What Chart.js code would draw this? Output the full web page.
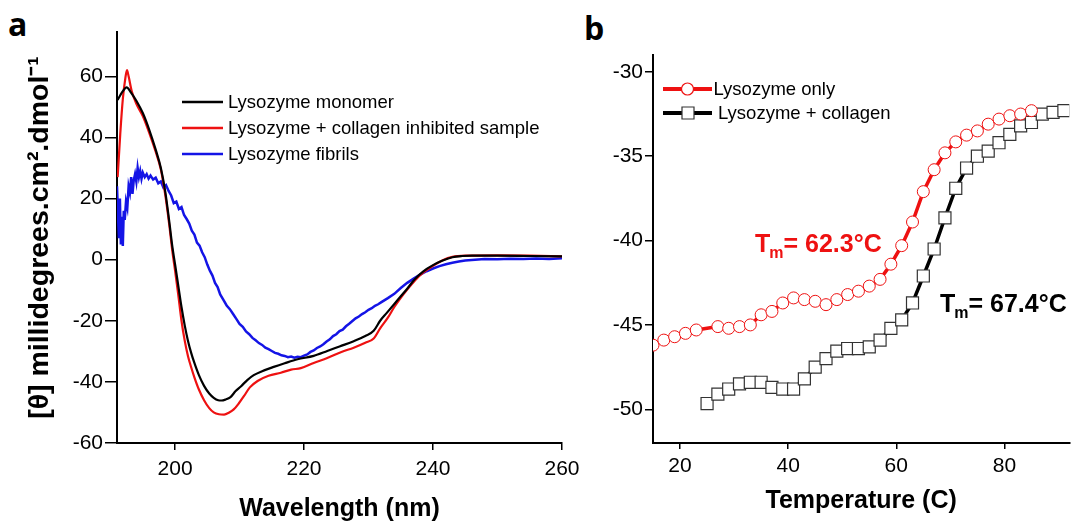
<!DOCTYPE html>
<html>
<head>
<meta charset="utf-8">
<script src="https://cdn.jsdelivr.net/npm/chart.js@4.4.1/dist/chart.umd.min.js"></script>
<style>
  html, body { margin: 0; padding: 0; background: #fff; }
  body { width: 1079px; height: 523px; position: relative; overflow: hidden; }
  canvas { position: absolute; top: 0; }
  #chartA { left: 0; }
  #chartB { left: 595px; }
  .panel { position: absolute; font-family: 'Open Sans', sans-serif; font-weight: 700; font-size: 32px; line-height: 32px; color: #000; }
</style>
</head>
<body>
<div class="panel" style="left:8px; top:8px;">a</div>
<div class="panel" style="left:584px; top:12px;">b</div>
<canvas id="chartA" width="595" height="523"></canvas>
<canvas id="chartB" width="484" height="523"></canvas>
<script>
// ---- panel a : CD spectra ----
const seriesNamesA = ['Lysozyme monomer', 'Lysozyme + collagen inhibited sample', 'Lysozyme fibrils'];
const wavelengthTicks = [200, 220, 240, 260];
const ellipticityTicks = [-60, -40, -20, 0, 20, 40, 60];

const monomerX = [191.1, 191.8, 192.5, 193.2, 194.0, 195.0, 196.0, 197.0, 197.8, 198.5, 199.1, 199.6, 200.0, 200.5, 201.0, 201.5, 202.0, 202.5, 203.0, 203.7, 204.5, 205.3, 206.0, 206.7, 207.2, 207.8, 208.6, 209.4, 210.2, 211.2, 212.2, 213.5, 215.3, 217.0, 219.0, 221.5, 223.6, 225.5, 227.7, 229.5, 230.8, 231.8, 232.8, 234.0, 235.0, 236.0, 237.2, 238.5, 240.0, 241.5, 243.0, 244.5, 246.0, 250.0, 255.0, 260.0];
const monomerY = [52.3, 54.8, 56.4, 54.6, 52.0, 48.0, 42.5, 36.0, 30.0, 22.0, 12.5, 4.0, -1.5, -8.5, -15.5, -21.5, -26.5, -30.5, -33.8, -37.8, -41.3, -43.8, -45.2, -46.0, -46.1, -45.8, -45.0, -43.0, -41.5, -39.4, -37.8, -36.5, -35.1, -33.9, -32.6, -31.5, -29.9, -28.4, -26.7, -25.0, -23.3, -20.0, -17.5, -14.5, -12.0, -9.5, -6.3, -3.8, -1.8, -0.3, 0.8, 1.2, 1.3, 1.3, 1.2, 1.1];

const inhibitedX = [191.1, 191.5, 191.9, 192.3, 192.55, 192.8, 193.3, 194.0, 195.0, 196.0, 197.0, 197.8, 198.5, 199.1, 199.6, 200.0, 200.5, 201.0, 201.5, 202.0, 202.5, 203.0, 203.7, 204.5, 205.3, 206.0, 206.8, 207.6, 208.4, 209.1, 209.9, 210.7, 211.6, 212.8, 214.5, 216.4, 218.0, 219.5, 221.5, 223.6, 225.8, 227.7, 229.5, 230.8, 231.8, 233.0, 234.0, 235.0, 236.0, 237.2, 238.5, 240.0, 241.5, 243.0, 245.0, 250.0, 255.0, 260.0];
const inhibitedY = [27.0, 41.0, 52.5, 59.5, 62.0, 60.0, 55.0, 51.0, 47.0, 41.5, 35.3, 29.5, 21.0, 11.5, 2.5, -3.5, -11.5, -20.0, -26.5, -31.5, -35.2, -38.5, -42.5, -46.0, -48.6, -50.0, -50.6, -50.7, -50.0, -49.0, -47.0, -44.6, -41.8, -39.7, -38.0, -37.0, -36.0, -35.5, -33.8, -32.2, -30.2, -28.8, -27.2, -25.8, -22.5, -19.0, -15.5, -12.5, -9.8, -6.8, -4.2, -2.0, -0.2, 0.9, 1.3, 1.4, 1.3, 1.1];

const fibrilX = [191.0, 191.2, 191.3, 191.45, 191.6, 191.75, 191.9, 192.05, 192.2, 192.4, 192.6, 192.8, 193.0, 193.2, 193.4, 193.6, 193.8, 194.0, 194.2, 194.4, 194.6, 194.8, 195.0, 195.3, 195.6, 195.9, 196.2, 196.6, 197.0, 197.4, 197.8, 198.2, 198.6, 199.0, 199.4, 199.8, 200.2, 200.6, 201.0, 201.4, 201.8, 202.2, 202.6, 203.0, 203.4, 203.8, 204.2, 204.6, 205.0, 205.4, 205.8, 206.2, 206.6, 207.0, 207.5, 208.0, 208.5, 209.0, 209.5, 210.0, 210.5, 211.0, 211.5, 212.0, 212.5, 213.0, 213.5, 214.0, 214.5, 215.0, 215.5, 216.0, 216.5, 217.0, 217.5, 218.0, 218.5, 219.0, 219.5, 220.0, 220.5, 221.0, 221.5, 222.0, 222.5, 223.0, 223.5, 224.0, 224.5, 225.0, 225.5, 226.0, 226.5, 227.0, 227.5, 228.0, 228.5, 229.0, 229.5, 230.0, 230.5, 231.0, 231.5, 232.0, 233.0, 234.0, 235.0, 236.0, 237.0, 238.0, 239.0, 240.0, 241.0, 242.0, 243.0, 244.0, 245.0, 246.5, 248.0, 250.0, 252.0, 254.0, 256.0, 258.0, 260.0];
const fibrilY = [24.0, 12.0, 7.0, 20.0, 5.0, 14.0, 4.5, 16.0, 13.0, 19.0, 17.0, 24.0, 22.0, 27.0, 21.5, 26.0, 28.0, 25.5, 30.0, 27.0, 29.0, 26.5, 28.5, 27.0, 28.0, 26.5, 27.5, 26.2, 26.8, 25.0, 25.6, 23.6, 24.4, 22.5, 21.0, 18.5, 19.0, 16.6, 17.2, 14.6, 13.3, 11.8, 9.5, 8.2, 5.6, 4.6, 2.4, 0.8, -1.6, -3.6, -5.2, -7.6, -9.0, -11.4, -13.2, -15.0, -16.2, -17.8, -19.4, -21.0, -22.0, -23.5, -24.4, -25.6, -26.4, -27.3, -27.9, -28.8, -29.3, -29.9, -30.5, -30.8, -31.3, -31.5, -31.9, -31.7, -32.1, -31.8, -31.9, -31.4, -31.0, -30.2, -29.7, -28.9, -28.4, -27.7, -26.8, -26.1, -25.0, -24.4, -23.4, -22.9, -21.8, -21.0, -20.1, -19.2, -18.6, -17.8, -17.2, -16.4, -15.9, -15.1, -14.6, -13.9, -12.6, -11.2, -9.3, -7.6, -6.2, -4.9, -3.8, -2.9, -2.1, -1.5, -1.0, -0.6, -0.3, 0.0, 0.2, 0.1, 0.3, 0.2, 0.4, 0.2, 0.5];

// ---- panel b : thermal unfolding ----
const seriesNamesB = ['Lysozyme only', 'Lysozyme + collagen'];
const tempTicks = [20, 40, 60, 80];
const signalTicks = [-50, -45, -40, -35, -30];
const tmLabels = ['62.3', '67.4'];

const onlyT = [15, 17, 19, 21, 23, 27, 29, 31, 33, 35, 37, 39, 41, 43, 45, 47, 49, 51, 53, 55, 57, 59, 61, 63, 65, 67, 69, 71, 73, 75, 77, 79, 81, 83, 85];
const onlyY = [-46.2, -45.9, -45.7, -45.5, -45.3, -45.1, -45.2, -45.1, -45.0, -44.4, -44.2, -43.7, -43.4, -43.5, -43.6, -43.8, -43.5, -43.2, -43.0, -42.7, -42.3, -41.4, -40.3, -38.9, -37.1, -35.8, -34.8, -34.15, -33.75, -33.5, -33.1, -32.8, -32.6, -32.5, -32.3];

const collagenT = [25, 27, 29, 31, 33, 35, 37, 39, 41, 43, 45, 47, 49, 51, 53, 55, 57, 59, 61, 63, 65, 67, 69, 71, 73, 75, 77, 79, 81, 83, 85, 87, 89, 91];
const collagenY = [-49.66, -49.1, -48.8, -48.5, -48.4, -48.4, -48.7, -48.8, -48.8, -48.2, -47.5, -47.0, -46.55, -46.4, -46.4, -46.3, -45.9, -45.2, -44.7, -43.7, -42.1, -40.5, -38.65, -36.9, -35.7, -35.0, -34.7, -34.2, -33.7, -33.2, -33.0, -32.5, -32.4, -32.3];

const FONT = "'Liberation Sans', Arial, sans-serif";
Chart.defaults.font.family = FONT;
Chart.defaults.color = '#000';

const RED = '#ee1111';
const BLUE = '#1414e6';

function pairs(xs, ys) { return xs.map((x, i) => ({ x: x, y: ys[i] })); }

function axis(min, max, tickValues, tickLen, extra) {
    return Object.assign({
        type: 'linear', min: min, max: max,
        afterBuildTicks: s => { s.ticks = tickValues.map(v => ({ value: v })); },
        grid: { drawOnChartArea: false, color: '#000', tickLength: tickLen, lineWidth: 1.5 },
        border: { color: '#000', width: 2 }
    }, extra);
}

// legend drawn inside the plot, like the original figure
const legendA = {
    id: 'legendA',
    afterDatasetsDraw(chart) {
        const ctx = chart.ctx;
        ctx.save();
        ctx.font = '18.5px ' + FONT;
        ctx.textBaseline = 'middle';
        chart.data.datasets.forEach((ds, i) => {
            const y = 102 + i * 26;
            ctx.strokeStyle = ds.borderColor;
            ctx.lineWidth = 2.6;
            ctx.beginPath(); ctx.moveTo(182, y); ctx.lineTo(223, y); ctx.stroke();
            ctx.fillStyle = '#000';
            ctx.fillText(ds.label, 228, y + 1);
        });
        ctx.restore();
    }
};

new Chart(document.getElementById('chartA'), {
    type: 'line',
    data: {
        datasets: [
            { label: seriesNamesA[0], data: pairs(monomerX, monomerY), borderColor: '#000', borderWidth: 2.2, pointRadius: 0, cubicInterpolationMode: 'monotone', order: 1 },
            { label: seriesNamesA[1], data: pairs(inhibitedX, inhibitedY), borderColor: RED, borderWidth: 2.2, pointRadius: 0, cubicInterpolationMode: 'monotone', order: 2 },
            { label: seriesNamesA[2], data: pairs(fibrilX, fibrilY), borderColor: BLUE, borderWidth: 2.5, pointRadius: 0, tension: 0, order: 3 }
        ]
    },
    options: {
        responsive: false, animation: false, devicePixelRatio: 1,
        layout: { padding: { left: 0, top: 32, right: 33, bottom: 0 } },
        plugins: { legend: { display: false }, tooltip: { enabled: false } },
        scales: {
            x: axis(191, 260, wavelengthTicks, 7, {
                afterFit: s => { s.height = 80; },
                ticks: { font: { size: 21 }, padding: 7 },
                title: { display: true, text: 'Wavelength (nm)', font: { size: 25, weight: 'bold', lineHeight: 1 }, padding: { top: 0, bottom: 1 } }
            }),
            y: axis(-60, 74.5, ellipticityTicks, 12, {
                afterFit: s => { s.width = 117; },
                ticks: { font: { size: 21 }, padding: 2 },
                title: { display: true, text: '[θ] millidegrees.cm².dmol⁻¹', font: { size: 28.5, weight: 'bold', lineHeight: 1 }, padding: { top: 26, bottom: 0 } }
            })
        }
    },
    plugins: [legendA]
});

// legend + Tm labels for panel b
function drawTm(ctx, x, y, color, value) {
    ctx.fillStyle = color;
    ctx.textBaseline = 'alphabetic';
    ctx.font = 'bold 25px ' + FONT;
    ctx.fillText('T', x, y);
    let w = ctx.measureText('T').width;
    ctx.font = 'bold 16px ' + FONT;
    ctx.fillText('m', x + w - 1, y + 6);
    w += ctx.measureText('m').width - 1;
    ctx.font = 'bold 25px ' + FONT;
    ctx.fillText('= ' + value + '°C', x + w, y);
}

const overlayB = {
    id: 'overlayB',
    afterDatasetsDraw(chart) {
        const ctx = chart.ctx;
        ctx.save();
        const rows = [{ y: 89, tx: 118.5 }, { y: 113, tx: 123 }];
        chart.data.datasets.forEach((ds, i) => {
            const r = rows[i];
            ctx.strokeStyle = ds.borderColor;
            ctx.lineWidth = 4;
            ctx.beginPath(); ctx.moveTo(68, r.y); ctx.lineTo(117, r.y); ctx.stroke();
            ctx.fillStyle = '#fff';
            ctx.strokeStyle = ds.pointBorderColor;
            ctx.lineWidth = 1.2;
            ctx.beginPath();
            if (ds.pointStyle === 'circle') ctx.arc(92.5, r.y, 6, 0, Math.PI * 2);
            else ctx.rect(93 - 6, r.y - 6, 12, 12);
            ctx.fill(); ctx.stroke();
            ctx.fillStyle = '#000';
            ctx.font = '18.5px ' + FONT;
            ctx.textBaseline = 'middle';
            ctx.fillText(ds.label, r.tx, r.y + 1);
        });
        drawTm(ctx, 160, 252, RED, tmLabels[0]);
        drawTm(ctx, 345, 312, '#000', tmLabels[1]);
        ctx.restore();
    }
};

new Chart(document.getElementById('chartB'), {
    type: 'line',
    data: {
        datasets: [
            { label: seriesNamesB[0], data: pairs(onlyT, onlyY), borderColor: RED, borderWidth: 3.5, pointStyle: 'circle', pointRadius: 6, pointBackgroundColor: '#fff', pointBorderColor: RED, pointBorderWidth: 1, tension: 0, order: 1 },
            { label: seriesNamesB[1], data: pairs(collagenT, collagenY), borderColor: '#000', borderWidth: 3.5, pointStyle: 'rect', pointRadius: 8.5, pointBackgroundColor: '#fff', pointBorderColor: '#333', pointBorderWidth: 1.2, tension: 0, order: 2 }
        ]
    },
    options: {
        responsive: false, animation: false, devicePixelRatio: 1,
        layout: { padding: { left: 0, top: 55, right: 0, bottom: 0 } },
        plugins: { legend: { display: false }, tooltip: { enabled: false } },
        scales: {
            x: axis(15, 92, tempTicks, 6, {
                afterFit: s => { s.height = 80; },
                ticks: { font: { size: 21 }, padding: 5 },
                title: { display: true, text: 'Temperature (C)', font: { size: 25, weight: 'bold', lineHeight: 1 }, padding: { top: 0, bottom: 9 } }
            }),
            y: axis(-52, -29, signalTicks, 8, {
                afterFit: s => { s.width = 58; },
                ticks: { font: { size: 21 }, padding: 2 }
            })
        }
    },
    plugins: [overlayB]
});
</script>
</body>
</html>
